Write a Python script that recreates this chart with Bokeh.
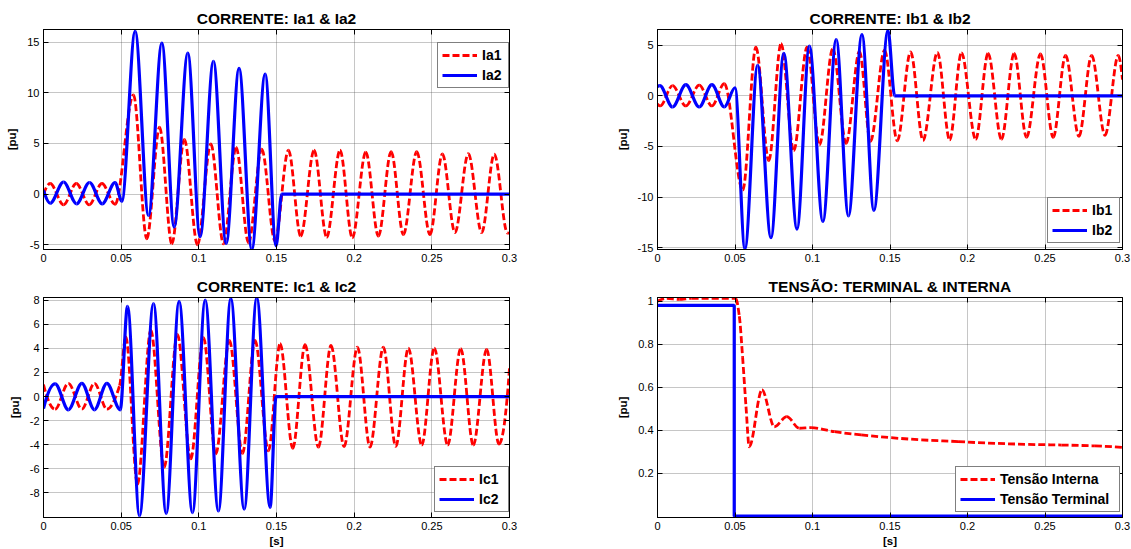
import numpy as np
from bokeh.plotting import figure
from bokeh.models import FixedTicker, LinearAxis, Legend, LegendItem, Range1d, ColumnDataSource
from bokeh.layouts import row, column
from bokeh.embed import file_html
from bokeh.resources import INLINE

FONT = "Liberation Sans"
RED = "#ff0000"
BLUE = "#0000ff"

# ---------------- data ----------------
x_ticks = [0, 0.05, 0.1, 0.15, 0.2, 0.25, 0.3]
x_tick_labels = ["0", "0.05", "0.1", "0.15", "0.2", "0.25", "0.3"]

titles = ["CORRENTE: Ia1 & Ia2", "CORRENTE: Ib1 & Ib2", "CORRENTE: Ic1 & Ic2", "TENSÃO: TERMINAL & INTERNA"]

# Ia (extrema / break points of each waveform)
ia1_t = [0.0, 0.0043, 0.0129, 0.0211, 0.0294, 0.0376, 0.0461, 0.0579, 0.0665, 0.0747, 0.0826, 0.0907,
         0.0991, 0.1077, 0.1159, 0.1240, 0.1320, 0.1405, 0.1490, 0.1577, 0.1656, 0.1742, 0.1823, 0.1909,
         0.1988, 0.2075, 0.2156, 0.2238, 0.2317, 0.2403, 0.2488, 0.2568, 0.2649, 0.2735, 0.2821, 0.2902,
         0.2987, 0.3]
ia1_v = [0.0, 1.05, -1.05, 1.05, -1.05, 1.05, -1.0, 9.8, -4.4, 6.6, -4.9, 5.4,
         -5.0, 4.95, -4.9, 4.6, -4.8, 4.45, -4.6, 4.35, -4.15, 4.33, -4.25, 4.33,
         -4.3, 4.15, -4.15, 4.2, -4.0, 4.2, -4.0, 3.97, -3.8, 4.0, -3.8, 3.95,
         -3.85, -3.8]
ia2_t = [0.0, 0.0043, 0.0129, 0.0213, 0.0296, 0.0378, 0.0461, 0.0504, 0.0590, 0.0676, 0.0762, 0.0841,
         0.0929, 0.1008, 0.1094, 0.1176, 0.1259, 0.1341, 0.1427, 0.1497, 0.1534, 0.3]
ia2_v = [0.35, -0.9, 1.2, -0.95, 1.15, -0.95, 1.15, -0.7, 16.05, -2.1, 14.9, -3.25,
         13.9, -4.2, 13.1, -4.85, 12.4, -5.45, 11.85, -5.1, 0.0, 0.0]

# Ib
ib1_t = [0.0, 0.0017, 0.0097, 0.0183, 0.0269, 0.0351, 0.0431, 0.0550, 0.0635, 0.0718, 0.0797, 0.0879,
         0.0965, 0.1045, 0.1131, 0.1217, 0.1303, 0.1374, 0.1465, 0.1547, 0.1633, 0.1713, 0.1806, 0.1885,
         0.1961, 0.2053, 0.2133, 0.2219, 0.2301, 0.2381, 0.2471, 0.2553, 0.2633, 0.2719, 0.2801, 0.2887,
         0.2973, 0.3]
ib1_v = [-0.8, -1.0, 1.0, -1.0, 1.05, -1.0, 1.2, -9.3, 4.8, -6.4, 5.15, -5.4,
         4.8, -4.85, 4.65, -4.7, 4.4, -4.5, 4.5, -4.45, 4.35, -4.4, 4.3, -4.35,
         4.25, -4.3, 4.2, -4.3, 4.2, -4.1, 4.15, -4.1, 4.0, -4.0, 4.0, -3.9,
         4.0, 1.6]
ib2_t = [0.0, 0.0015, 0.0097, 0.0183, 0.0269, 0.0351, 0.0431, 0.0500, 0.0564, 0.0646, 0.0732, 0.0815,
         0.0900, 0.0980, 0.1067, 0.1153, 0.1232, 0.1319, 0.1396, 0.1487, 0.1530, 0.3]
ib2_v = [0.9, 1.0, -1.1, 1.1, -1.1, 1.1, -1.1, 0.8, -15.1, 3.0, -14.0, 4.2,
         -13.15, 4.9, -12.4, 5.55, -11.85, 6.05, -11.3, 6.45, 0.0, 0.0]

# Ic
ic1_t = [0.0, 0.0075, 0.0160, 0.0247, 0.0328, 0.0408, 0.0490, 0.0530, 0.0605, 0.0691, 0.0777, 0.0862,
         0.0948, 0.1030, 0.1109, 0.1197, 0.1281, 0.1362, 0.1448, 0.1523, 0.1605, 0.1684, 0.1770, 0.1851,
         0.1935, 0.2021, 0.2102, 0.2188, 0.2268, 0.2349, 0.2435, 0.2516, 0.2602, 0.2686, 0.2767, 0.2853,
         0.2932, 0.3]
ic1_v = [1.0, -1.05, 1.1, -1.05, 1.1, -1.05, 0.9, 4.94, -7.27, 5.5, -5.88, 5.16,
         -5.18, 4.88, -4.77, 4.66, -4.72, 4.66, -4.5, 4.38, -4.3, 4.3, -4.2, 4.24,
         -4.16, 4.1, -4.2, 4.1, -4.14, 4.02, -4.03, 4.02, -4.03, 3.97, -4.03, 3.91,
         -3.95, 2.36]
ic2_t = [0.0, 0.0075, 0.0160, 0.0247, 0.0328, 0.0408, 0.0494, 0.0541, 0.0618, 0.0708, 0.0790, 0.0873,
         0.0959, 0.1041, 0.1126, 0.1206, 0.1292, 0.1373, 0.1459, 0.1497, 0.3]
ic2_v = [-1.0, 1.05, -1.1, 1.1, -1.1, 1.1, -1.1, 7.49, -9.9, 7.71, -9.7, 7.9,
         -9.63, 8.0, -9.5, 8.13, -9.35, 8.2, -9.2, 0.0, 0.0]

# Tensão
vint_t = [0.0, 0.006, 0.014, 0.022, 0.035, 0.0505, 0.0528, 0.0549, 0.0571, 0.0592, 0.0674, 0.0754,
          0.0834, 0.0915, 0.0991, 0.1142, 0.1314, 0.1508, 0.1702, 0.1939, 0.2068, 0.2392, 0.2607,
          0.2822, 0.3]
vint_v = [1.0, 1.013, 1.008, 1.013, 1.013, 1.013, 0.93, 0.74, 0.51, 0.323, 0.587, 0.416,
          0.463, 0.409, 0.412, 0.393, 0.378, 0.365, 0.355, 0.347, 0.342, 0.334, 0.331,
          0.327, 0.32]
vterm_t = [0.0, 0.0495, 0.0495, 0.3]
vterm_v = [0.98, 0.98, 0.0, 0.0]

# axis settings
y_ranges = [(-5.46, 16.24), (-15.17, 6.55), (-10.04, 8.22), (-0.006, 1.017)]
y_ticks = [[-5, 0, 5, 10, 15], [-15, -10, -5, 0, 5], [-8, -6, -4, -2, 0, 2, 4, 6, 8], [0.2, 0.4, 0.6, 0.8, 1]]
y_tick_labels = [["-5", "0", "5", "10", "15"], ["-15", "-10", "-5", "0", "5"],
                 ["-8", "-6", "-4", "-2", "0", "2", "4", "6", "8"], ["0.2", "0.4", "0.6", "0.8", "1"]]
legend_labels = [("Ia1", "Ia2"), ("Ib1", "Ib2"), ("Ic1", "Ic2"), ("Tensão Interna", "Tensão Terminal")]


# ---------------- helpers ----------------
def smooth_segments(t, v):
    """Cubic (monotone Hermite) segments through the read points, as bezier control points."""
    t = np.asarray(t, float)
    v = np.asarray(v, float)
    n = len(t)
    h = np.diff(t)
    d = np.diff(v) / h
    m = np.zeros(n)
    for i in range(1, n - 1):
        if d[i - 1] * d[i] > 0:
            w1 = 2 * h[i] + h[i - 1]
            w2 = h[i] + 2 * h[i - 1]
            m[i] = (w1 + w2) / (w1 / d[i - 1] + w2 / d[i])

    def end_slope(h0, h1, d0, d1):
        s = ((2 * h0 + h1) * d0 - h0 * d1) / (h0 + h1)
        if np.sign(s) != np.sign(d0):
            s = 0.0
        elif np.sign(d0) != np.sign(d1) and abs(s) > abs(3 * d0):
            s = 3 * d0
        return s

    m[0] = end_slope(h[0], h[1], d[0], d[1])
    m[-1] = end_slope(h[-1], h[-2], d[-1], d[-2])
    x0, x1, y0, y1 = t[:-1], t[1:], v[:-1], v[1:]
    return ColumnDataSource(dict(x0=x0, y0=y0, x1=x1, y1=y1,
                                 cx0=x0 + h / 3, cy0=y0 + m[:-1] * h / 3,
                                 cx1=x1 - h / 3, cy1=y1 - m[1:] * h / 3))


def make_fig(idx, width, height, mb_left, mb_right, mb_top, mb_bottom, xlabel):
    p = figure(width=width, height=height, output_backend="svg", toolbar_location=None,
               x_range=Range1d(0, 0.3), y_range=Range1d(*y_ranges[idx]),
               min_border_left=mb_left, min_border_right=mb_right,
               min_border_top=mb_top, min_border_bottom=mb_bottom,
               background_fill_color="white", border_fill_color="white",
               outline_line_color="black", outline_line_width=1)
    p.title.text = titles[idx]
    p.title.text_font = FONT
    p.title.text_font_style = "bold"
    p.title.text_font_size = "15.5px"
    p.title.align = "center"
    p.title.text_color = "black"
    p.title.standoff = 6

    xt = FixedTicker(ticks=x_ticks)
    yt = FixedTicker(ticks=y_ticks[idx])
    p.xaxis.ticker = xt
    p.yaxis.ticker = yt
    p.xaxis.major_label_overrides = dict(zip(x_ticks, x_tick_labels))
    p.yaxis.major_label_overrides = dict(zip(y_ticks[idx], y_tick_labels[idx]))
    for ax in (p.xaxis[0], p.yaxis[0]):
        ax.major_tick_in = 5
        ax.major_tick_out = 0
        ax.minor_tick_line_color = None
        ax.axis_line_color = "black"
        ax.major_tick_line_color = "black"
        ax.major_label_text_font = FONT
        ax.major_label_text_font_size = "11px"
        ax.major_label_text_color = "black"
        ax.major_label_standoff = 4
        ax.axis_label_text_font = FONT
        ax.axis_label_text_font_style = "bold"
        ax.axis_label_text_font_size = "11.5px"
        ax.axis_label_text_color = "black"
    p.yaxis.axis_label = "[pu]"
    p.yaxis.axis_label_standoff = 6
    if xlabel:
        p.xaxis.axis_label = "[s]"
        p.xaxis.axis_label_standoff = 2

    # tick marks on the top and right of the box (no labels drawn)
    for side, tk in (("above", xt), ("right", yt)):
        ax = LinearAxis(ticker=tk, major_tick_in=5, major_tick_out=0, minor_tick_line_color=None,
                        major_label_text_font_size="1px", major_label_text_color=None,
                        major_label_standoff=0,
                        axis_line_color="black", major_tick_line_color="black")
        p.add_layout(ax, side)

    for g in (p.xgrid[0], p.ygrid[0]):
        g.grid_line_color = "#505050"
        g.grid_line_alpha = 0.65
        g.grid_line_dash = "1 1"
        g.grid_line_width = 1
    return p


def add_legend(p, items, frame_w, frame_h, label_w, right_gap, top_gap=None, bottom_gap=None):
    box_w = 8 + 35 + 5 + label_w
    box_h = 44
    vx = frame_w - box_w - right_gap
    vy = frame_h - top_gap - box_h if top_gap is not None else bottom_gap
    leg = Legend(items=items, location=(vx, vy), margin=0, padding=4, spacing=4,
                 label_height=16, glyph_height=16, glyph_width=35, label_width=label_w,
                 label_standoff=5, border_line_color="black", border_line_width=1.5,
                 background_fill_color="white", background_fill_alpha=1.0,
                 label_text_font=FONT, label_text_font_style="bold", label_text_font_size="14px",
                 label_text_color="black")
    p.add_layout(leg, "center")


# ---------------- layout ----------------
LW, RW = 560, 571
TOP_H, BOT_H = 272, 277
L_ML, L_MR = 43, 51
R_ML, R_MR = 97, 9
T_MT, T_MB = 29, 23
B_MT, B_MB = 25, 32
L_FW = LW - L_ML - L_MR
R_FW = RW - R_ML - R_MR
T_FH = TOP_H - T_MT - T_MB
B_FH = BOT_H - B_MT - B_MB

RED_DASH = "7 3"
series = [(ia1_t, ia1_v, ia2_t, ia2_v), (ib1_t, ib1_v, ib2_t, ib2_v), (ic1_t, ic1_v, ic2_t, ic2_v)]
figs = []
specs = [(LW, TOP_H, L_ML, L_MR, T_MT, T_MB, False),
         (RW, TOP_H, R_ML, R_MR, T_MT, T_MB, False),
         (LW, BOT_H, L_ML, L_MR, B_MT, B_MB, True),
         (RW, BOT_H, R_ML, R_MR, B_MT, B_MB, True)]
for i, sp in enumerate(specs):
    p = make_fig(i, *sp)
    if i < 3:
        t1, v1, t2, v2 = series[i]
        r1 = p.bezier(x0="x0", y0="y0", x1="x1", y1="y1", cx0="cx0", cy0="cy0", cx1="cx1", cy1="cy1",
                      source=smooth_segments(t1, v1), line_color=RED, line_width=2.8, line_dash=RED_DASH)
        r2 = p.bezier(x0="x0", y0="y0", x1="x1", y1="y1", cx0="cx0", cy0="cy0", cx1="cx1", cy1="cy1",
                      source=smooth_segments(t2, v2), line_color=BLUE, line_width=3.2)
    else:
        r1 = p.bezier(x0="x0", y0="y0", x1="x1", y1="y1", cx0="cx0", cy0="cy0", cx1="cx1", cy1="cy1",
                      source=smooth_segments(vint_t, vint_v), line_color=RED, line_width=2.8, line_dash=RED_DASH)
        r2 = p.line(vterm_t, vterm_v, line_color=BLUE, line_width=3.2)
    items = [LegendItem(label=legend_labels[i][0], renderers=[r1]),
             LegendItem(label=legend_labels[i][1], renderers=[r2])]
    if i == 0:
        add_legend(p, items, L_FW, T_FH, 22, 2, top_gap=15)
    elif i == 1:
        add_legend(p, items, R_FW, T_FH, 23, 4, bottom_gap=6)
    elif i == 2:
        add_legend(p, items, L_FW, B_FH, 25, 2, bottom_gap=5)
    else:
        add_legend(p, items, R_FW, B_FH, 115, 4, bottom_gap=5)
    figs.append(p)

layout = column(row(figs[0], figs[1], spacing=0), row(figs[2], figs[3], spacing=0), spacing=0)
open("out.html", "w").write(file_html(layout, INLINE))
